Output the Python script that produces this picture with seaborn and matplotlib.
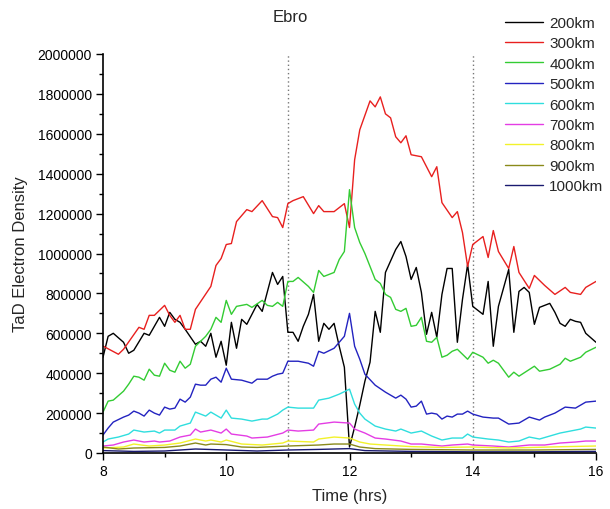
import numpy as np
import pandas as pd
import matplotlib
matplotlib.use("Agg")
import matplotlib.pyplot as plt
import seaborn as sns
from matplotlib.ticker import MultipleLocator, StrMethodFormatter

# Samples are on a 5-minute cadence starting at 08:00; idx_* give the sample
# number, val_* the TaD electron density in units of 1000.
altitudes = ["200km", "300km", "400km", "500km", "600km",
             "700km", "800km", "900km", "1000km"]
line_colors = ["#000000", "#e8201f", "#33cc33", "#2323c0", "#2fdede",
               "#e43de4", "#f2f22a", "#8a8a1a", "#1a1a70"]

idx_200 = [0, 1, 2, 4, 5, 6, 8, 9, 11, 12, 13, 14, 15, 16, 18, 19, 20, 21, 22, 23,
           24, 25, 26, 27, 28, 30, 31, 33, 34, 35, 36, 37, 38, 39, 40, 41, 42, 43, 44, 45,
           46, 47, 48, 49, 50, 51, 52, 53, 54, 55, 57, 58, 59, 60, 61, 62, 63, 64, 65, 66,
           67, 68, 69, 70, 71, 72, 74, 75, 76, 77, 79, 80, 81, 82, 83, 84, 85, 87, 88, 89,
           90, 91, 92, 93, 94, 96]
val_200 = [480, 585, 600, 555, 500, 515, 600, 590, 680, 635, 705, 670, 655, 620, 545, 560, 535, 600, 480, 560,
           440, 655, 525, 670, 645, 745, 710, 905, 845, 885, 605, 605, 560, 635, 695, 795, 560, 650, 620, 650,
           535, 430, 30, 130, 240, 360, 455, 710, 605, 905, 1020, 1060, 985, 870, 930, 805, 595, 705, 580, 795,
           925, 925, 555, 770, 945, 735, 695, 860, 535, 735, 920, 605, 810, 830, 805, 645, 730, 750, 705, 650,
           635, 670, 660, 655, 600, 555]

idx_300 = [0, 3, 4, 7, 8, 9, 10, 12, 13, 14, 15, 16, 17, 18, 21, 22, 23, 24, 25, 26,
           28, 29, 31, 33, 34, 35, 36, 37, 39, 41, 42, 43, 45, 47, 48, 49, 50, 52, 53, 54,
           55, 56, 57, 58, 59, 60, 62, 64, 65, 66, 68, 69, 70, 71, 72, 74, 75, 76, 77, 79,
           80, 81, 83, 84, 86, 88, 90, 91, 93, 94, 96]
val_300 = [536, 495, 520, 630, 620, 690, 690, 740, 690, 655, 690, 620, 620, 720, 835, 940, 975, 1045, 1050, 1160,
           1220, 1210, 1265, 1185, 1180, 1130, 1250, 1265, 1285, 1200, 1240, 1210, 1210, 1250, 1130, 1470, 1620, 1765, 1735, 1785,
           1700, 1680, 1585, 1555, 1590, 1495, 1485, 1385, 1435, 1255, 1180, 1210, 1105, 935, 1045, 1085, 980, 1115, 1010, 925,
           1035, 905, 825, 890, 840, 795, 830, 805, 795, 830, 860]

idx_400 = [0, 1, 2, 4, 5, 6, 7, 8, 9, 10, 11, 12, 13, 14, 15, 16, 17, 18, 19, 20,
           21, 22, 23, 24, 25, 26, 28, 29, 31, 32, 33, 34, 35, 36, 37, 38, 40, 41, 42, 43,
           45, 46, 47, 48, 49, 50, 51, 53, 54, 55, 56, 57, 58, 59, 60, 61, 62, 63, 64, 65,
           66, 67, 68, 69, 70, 71, 72, 74, 75, 76, 77, 79, 80, 81, 84, 85, 87, 89, 90, 91,
           93, 94, 96]
val_400 = [205, 260, 265, 310, 345, 385, 380, 365, 420, 390, 385, 450, 415, 405, 460, 425, 445, 535, 560, 585,
           620, 680, 655, 765, 695, 735, 745, 730, 765, 740, 735, 755, 735, 860, 860, 880, 835, 805, 915, 885,
           905, 970, 1010, 1320, 1130, 1055, 1000, 870, 850, 795, 780, 720, 710, 725, 635, 640, 680, 560, 555, 580,
           480, 490, 510, 520, 495, 470, 505, 480, 450, 465, 450, 380, 405, 385, 435, 410, 420, 445, 475, 460,
           480, 505, 530]

idx_500 = [0, 1, 2, 4, 5, 6, 7, 8, 9, 10, 11, 12, 13, 14, 15, 16, 17, 18, 19, 20,
           21, 22, 23, 24, 25, 27, 29, 30, 32, 33, 34, 35, 36, 38, 40, 41, 42, 43, 45, 47,
           48, 49, 50, 51, 53, 55, 57, 58, 59, 60, 61, 62, 63, 64, 65, 66, 67, 68, 69, 70,
           71, 72, 74, 76, 77, 79, 81, 83, 85, 86, 88, 90, 92, 94, 96]
val_500 = [90, 125, 155, 180, 190, 210, 200, 185, 215, 200, 190, 230, 220, 225, 270, 255, 280, 345, 340, 340,
           370, 380, 355, 425, 370, 365, 350, 370, 370, 385, 395, 400, 460, 460, 450, 435, 510, 500, 525, 585,
           700, 535, 470, 395, 340, 305, 275, 290, 270, 230, 235, 260, 195, 200, 195, 170, 185, 180, 195, 195,
           210, 195, 180, 175, 175, 145, 150, 180, 165, 180, 200, 230, 225, 255, 260]

idx_600 = [0, 1, 3, 5, 6, 8, 10, 11, 12, 14, 15, 17, 18, 20, 21, 22, 23, 24, 25, 27,
           29, 31, 32, 34, 35, 36, 38, 41, 42, 44, 46, 48, 49, 50, 51, 53, 55, 57, 58, 60,
           62, 64, 66, 68, 70, 71, 72, 75, 77, 79, 81, 83, 85, 87, 89, 91, 93, 94, 96]
val_600 = [55, 70, 80, 95, 115, 105, 110, 100, 115, 115, 135, 150, 205, 185, 205, 190, 175, 215, 175, 170,
           160, 170, 170, 195, 215, 230, 225, 225, 265, 275, 295, 320, 245, 200, 170, 135, 120, 110, 120, 100,
           110, 85, 65, 75, 75, 95, 80, 70, 65, 55, 60, 80, 70, 85, 100, 110, 120, 130, 125]

idx_700 = [0, 2, 4, 6, 8, 10, 11, 13, 15, 17, 18, 19, 21, 23, 24, 25, 28, 29, 32, 35,
           36, 38, 41, 42, 45, 48, 49, 51, 53, 55, 58, 60, 62, 64, 66, 68, 71, 72, 76, 79,
           81, 83, 86, 89, 92, 94, 96]
val_700 = [35, 40, 55, 65, 55, 60, 55, 60, 80, 90, 120, 105, 115, 100, 120, 95, 85, 75, 80, 100,
           115, 110, 115, 145, 155, 150, 120, 100, 75, 70, 60, 45, 45, 40, 35, 40, 45, 40, 35, 30,
           35, 40, 40, 50, 55, 60, 60]

idx_800 = [0, 4, 6, 9, 12, 15, 18, 20, 21, 23, 24, 27, 31, 35, 36, 41, 42, 45, 48, 50,
           52, 55, 60, 66, 72, 79, 84, 90, 96]
val_800 = [25, 30, 45, 35, 40, 50, 70, 60, 65, 55, 65, 45, 40, 50, 60, 55, 70, 80, 75, 55,
           45, 40, 32, 28, 30, 25, 28, 32, 35]

idx_900 = [0, 3, 6, 12, 15, 18, 20, 21, 24, 27, 30, 36, 42, 45, 48, 50, 53, 60, 72, 84, 96]
val_900 = [30, 20, 25, 28, 35, 50, 40, 45, 42, 30, 28, 35, 40, 45, 45, 30, 22, 18, 15, 15, 18]

idx_1000 = [0, 6, 12, 18, 24, 30, 36, 42, 48, 51, 60, 72, 84, 96]
val_1000 = [12, 8, 10, 20, 15, 10, 15, 18, 22, 12, 8, 6, 6, 8]

series = [(idx_200, val_200), (idx_300, val_300), (idx_400, val_400),
          (idx_500, val_500), (idx_600, val_600), (idx_700, val_700),
          (idx_800, val_800), (idx_900, val_900), (idx_1000, val_1000)]

frames = []
for name, (idx, val) in zip(altitudes, series):
    frames.append(pd.DataFrame({
        "time": 8 + np.asarray(idx) * 5 / 60.0,
        "density": np.asarray(val) * 1000.0,
        "altitude": name,
    }))
df = pd.concat(frames, ignore_index=True)

sns.set_style("ticks")
plt.rcParams["font.family"] = ["Liberation Sans", "DejaVu Sans"]

W, H = 610, 510
fig = plt.figure(figsize=(W / 100, H / 100), dpi=100)
ax = fig.add_axes([103 / W, 1 - 454 / H, (596 - 103) / W, (454 - 55) / H])

sns.lineplot(data=df, x="time", y="density", hue="altitude",
             hue_order=altitudes, palette=line_colors, estimator=None,
             linewidth=1.0, ax=ax)

for t_event in (11, 14):
    ax.axvline(t_event, color="#777777", linestyle=(0, (1, 2)), linewidth=1.0, zorder=0)

ax.set_xlim(8, 16)
ax.set_ylim(0, 2000000)
ax.xaxis.set_major_locator(MultipleLocator(2))
ax.xaxis.set_minor_locator(MultipleLocator(1))
ax.yaxis.set_major_locator(MultipleLocator(200000))
ax.yaxis.set_minor_locator(MultipleLocator(100000))
ax.yaxis.set_major_formatter(StrMethodFormatter("{x:.0f}"))
ax.xaxis.set_major_formatter(StrMethodFormatter("{x:.0f}"))

ax.tick_params(which="major", direction="out", length=5, width=1.0,
               labelsize=10, colors="black", pad=3)
ax.tick_params(which="minor", direction="out", length=3, width=1.0, colors="black")
for side in ("left", "bottom"):
    ax.spines[side].set_linewidth(1.2)
    ax.spines[side].set_color("black")
sns.despine(ax=ax)

ax.set_xlabel("Time (hrs)", fontsize=12, labelpad=7)
ax.set_ylabel("TaD Electron Density", fontsize=12, labelpad=7)

fig.text(290 / W, 1 - 18 / H, "Ebro", fontsize=12, ha="center", va="center")

sns.move_legend(ax, "upper left", bbox_to_anchor=(505 / W, 1 - 17 / H),
                bbox_transform=fig.transFigure, frameon=False, title=None,
                fontsize=11, handlelength=2.5, handletextpad=0.4,
                labelspacing=0.42, borderpad=0, borderaxespad=0)

fig.savefig("out.png", dpi=100)
